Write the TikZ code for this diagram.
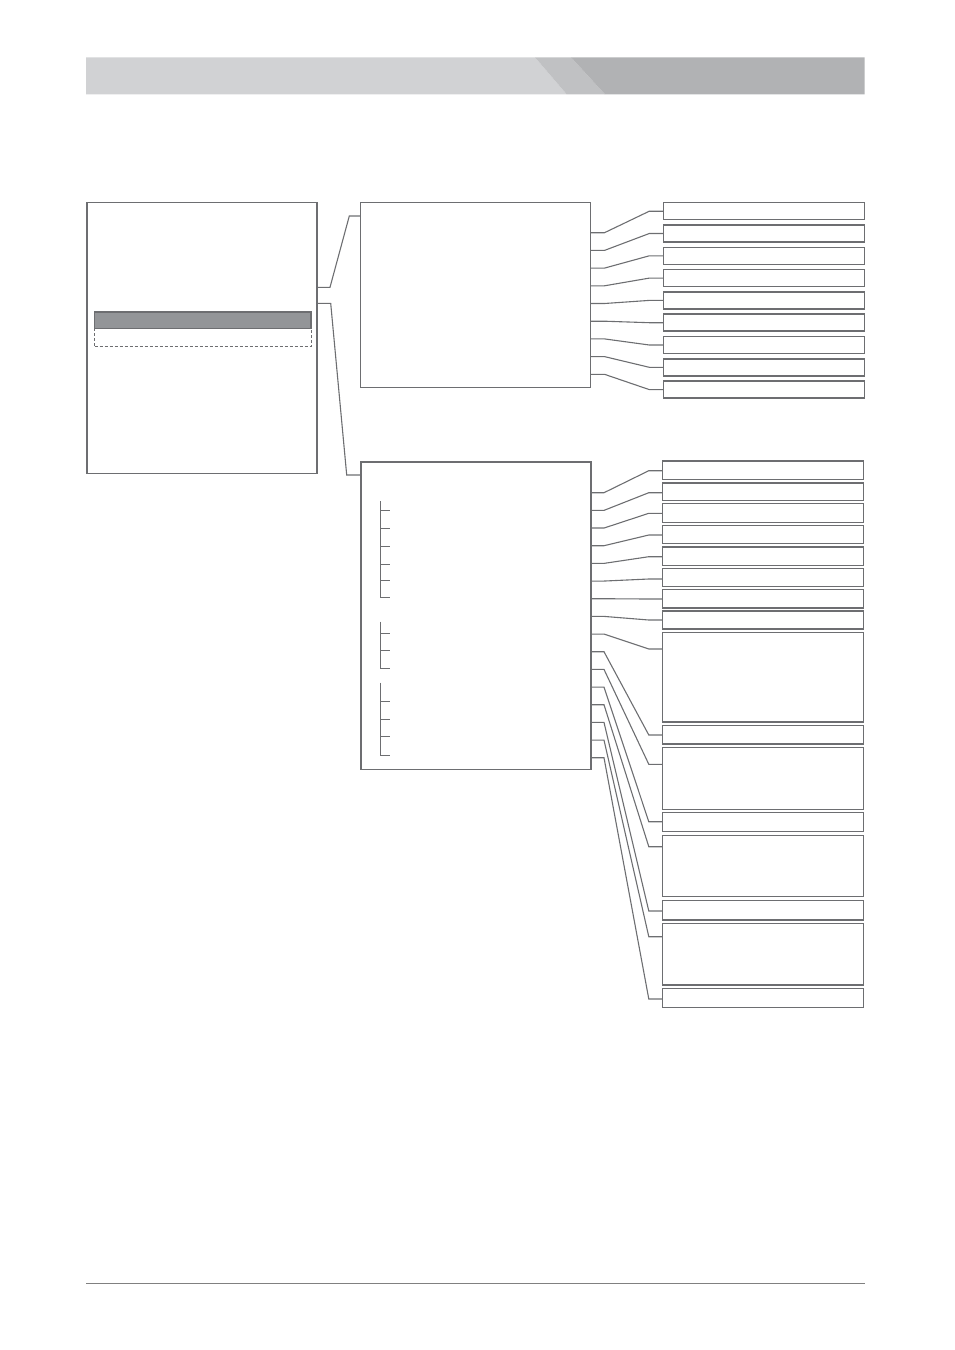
\documentclass[tikz,border=0pt]{standalone}
\usetikzlibrary{positioning,calc}
\definecolor{linegray}{RGB}{109,110,113}
\definecolor{barlight}{RGB}{209,210,212}
\definecolor{barmid}{RGB}{192,193,195}
\definecolor{bardark}{RGB}{177,178,180}
\definecolor{selgray}{RGB}{147,149,152}
\tikzset{
  basic/.style = {draw=linegray, rectangle, inner sep=0pt, outer sep=0pt, anchor=north west},
  panel/.style = {basic, line width=1.5pt, minimum width=230pt},
  option/.style = {basic, line width=1.5pt, minimum width=201pt, minimum height=17pt},
  link/.style = {draw=linegray, line width=1.1pt},
  tick/.style = {draw=linegray, line width=1pt},
}

\begin{document}
\begin{tikzpicture}[x=1pt, y=-1pt]
 \useasboundingbox (0,0) rectangle (954,1350);

 % header band
 \fill[barlight] (86,57.3) -- (535,57.3) -- (566.7,94.3) -- (86,94.3) -- cycle;
 \fill[barmid] (535,57.3) -- (571,57.3) -- (605,94.3) -- (566.7,94.3) -- cycle;
 \fill[bardark] (571,57.3) -- (864.7,57.3) -- (864.7,94.3) -- (605,94.3) -- cycle;

 % screen with selected line
 \node[panel, minimum height=271pt] (screen) at (87,202.5) {};
 \node[basic, dash pattern=on 3pt off 2pt, line width=0.9pt, minimum width=216.5pt, minimum height=17.5pt] (next) at (94.5,328.5) {};
 \node[basic, line width=1.6pt, fill=selgray, minimum width=216.5pt, minimum height=16.6pt] (selected) at (94.5,311.7) {};

 % two sub menus
 \node[panel, minimum height=185pt] (menuA) at (360.5,202.3) {};
 \node[panel, minimum height=307.5pt] (menuB) at (361,462) {};

 \draw[link] (screen.east |- 0,287.3) -- ++(13,0) -- (349.3,216) -- (menuA.west |- 0,216);
 \draw[link] (screen.east |- 0,303.3) -- ++(13.7,0) -- (346.7,475) -- (menuB.west |- 0,475);

 % options of the upper menu
 \foreach \i in {1,...,9} {
   \pgfmathsetmacro\oy{202.7+22.3*(\i-1)}
   \pgfmathsetmacro\sy{232.7+17.7*(\i-1)}
   \node[option] (opt-\i) at (663.3,\oy) {};
   \draw[link] (menuA.east |- 0,\sy) -- ++(14,0) -- (649.3,\oy+8.5) -- (opt-\i.west);
 }

 % items of the lower menu
 \foreach \i/\top/\h/\ty in {1/461/18.3/470.7, 2/483/17.5/492.7, 3/503.7/19/513.3,
     4/525.3/18.4/535, 5/547/18.3/556.7, 6/568.7/17.6/579, 7/589.7/18.3/599,
     8/611/18/620, 9/632.7/89.3/649, 10/725.3/18.7/735, 11/747.7/61.6/764.3,
     12/812.7/19/821.7, 13/835.7/61/846.7, 14/900.7/19.3/911, 15/923.3/61.7/936.7,
     16/988.3/19/999} {
   \pgfmathsetmacro\sy{492.7+17.67*(\i-1)}
   \node[option, minimum height=\h pt] (item-\i) at (662.7,\top) {};
   \draw[link] (menuB.east |- 0,\sy) -- ++(13,0) -- (648.8,\ty) -- (item-\i.west |- 0,\ty);
 }

 % tick groups inside the lower menu
 \draw[tick] (380.7,501) -- (380.7,597.7) -- (389.7,597.7);
 \foreach \y in {510.3,528,546.7,564.3,580.3} \draw[tick] (380.7,\y) -- ++(9,0);
 \draw[tick] (380.7,621.7) -- (380.7,668.7) -- (389.7,668.7);
 \foreach \y in {633.3,650.3} \draw[tick] (380.7,\y) -- ++(9,0);
 \draw[tick] (380.7,682.7) -- (380.7,755.3) -- (389.7,755.3);
 \foreach \y in {701.7,719.7,736.7} \draw[tick] (380.7,\y) -- ++(9,0);

 % footer rule
 \draw[draw=gray, line width=1.2pt] (86,1283.3) -- (864.7,1283.3);
\end{tikzpicture}
\end{document}
